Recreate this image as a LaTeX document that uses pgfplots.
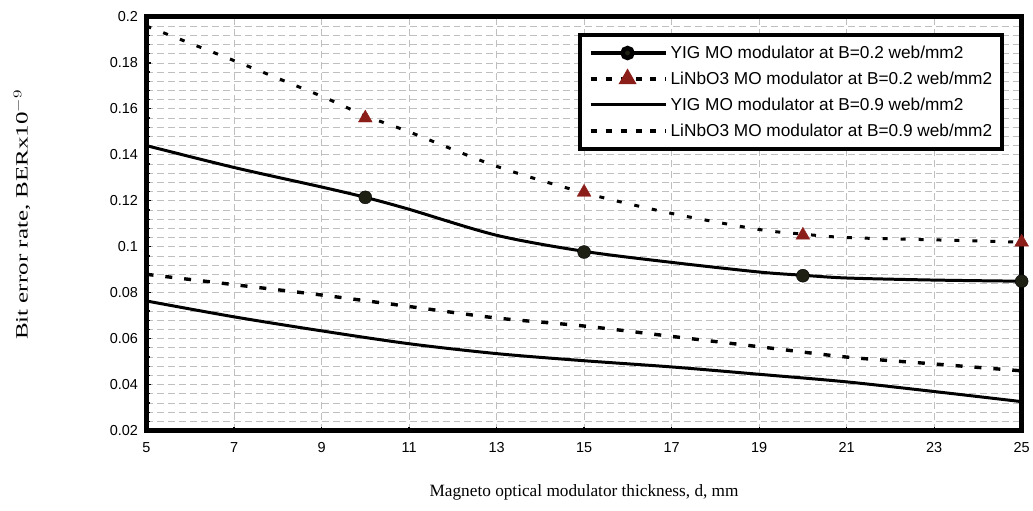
\documentclass[border=0pt]{standalone}
\usepackage{fontspec}
\setmainfont{Liberation Serif}
\newfontfamily\arial{Liberation Sans}
\usepackage{graphicx}
\usepackage{pgfplots}
\pgfplotsset{compat=1.18}
\definecolor{tri}{RGB}{140,30,25}
\definecolor{dot}{RGB}{30,32,20}
\begin{document}
\begin{tikzpicture}
\begin{axis}[
  scale only axis,
  width=878bp, height=415bp,
  xmin=5, xmax=25, ymin=0.02, ymax=0.2,
  xtick={5,7,...,25},
  xticklabels={5,7,9,11,13,15,17,19,21,23,25},
  ytick={0.02,0.04,0.06,0.08,0.1,0.12,0.14,0.16,0.18,0.2},
  yticklabels={0.02,0.04,0.06,0.08,0.1,0.12,0.14,0.16,0.18,0.2},
  minor x tick num=4,
  minor y tick num=4,
  xmajorgrids, ymajorgrids, yminorgrids,
  major grid style={gray!50, line width=0.8bp, dash pattern=on 7bp off 4bp},
  minor grid style={gray!50, line width=0.8bp, dash pattern=on 7bp off 4bp},
  axis line style={line width=5bp, black},
  every tick/.style={black, line width=1.2bp},
  major tick length=4bp, minor tick length=3bp,
  tick align=inside,
  xtick pos=bottom, ytick pos=left,
  ticklabel style={font=\arial\fontsize{14.5bp}{16bp}\selectfont},
  xticklabel style={yshift=-8bp},
  yticklabel style={xshift=-5bp},
  xlabel={Magneto optical modulator thickness, d, mm},
  ylabel={\scalebox{1.45}[1]{Bit error rate, BERx10$^{-9}$}},
  label style={font=\fontsize{17.3bp}{19bp}\selectfont},
  xlabel style={yshift=-25bp},
  ylabel style={yshift=73bp, xshift=9bp},
  legend style={at={(0.98,0.961)}, anchor=north east, draw=black, line width=4bp,
    font=\arial\fontsize{17.3bp}{19bp}\selectfont, row sep=8bp,
    inner xsep=8bp, inner ysep=9bp, cells={anchor=west}},
  legend cell align=left,
  legend image code/.code={\draw[mark repeat=2,mark phase=2,#1] plot coordinates {(0bp,0bp) (37bp,0bp) (76bp,0bp)};},
]
% YIG B=0.2
\addplot[black, line width=3bp, smooth, forget plot] coordinates {
 (5,0.144) (7,0.1345) (9,0.126) (10,0.1215) (11,0.1163) (13,0.1050) (15,0.098)
 (17,0.0932) (19,0.0890) (20,0.0876) (21,0.0864) (23,0.0855) (25,0.085)};
% LiNbO3 B=0.2
\addplot[black, line width=3bp, dash pattern=on 5bp off 13bp, smooth, forget plot] coordinates {
 (5,0.196) (7,0.181) (9,0.1655) (10,0.157) (11,0.150) (13,0.135) (15,0.1235)
 (17,0.1145) (19,0.1075) (20,0.1055) (21,0.104) (23,0.103) (25,0.102)};
% YIG B=0.9
\addplot[black, line width=3bp, smooth, forget plot] coordinates {
 (5,0.0764) (7,0.0695) (9,0.0634) (11,0.0578) (13,0.0535) (15,0.0504)
 (17,0.0477) (19,0.0445) (21,0.0412) (23,0.037) (25,0.0326)};
% LiNbO3 B=0.9
\addplot[black, line width=3.4bp, dash pattern=on 7bp off 12bp, smooth, forget plot] coordinates {
 (5,0.088) (7,0.0835) (9,0.079) (11,0.074) (13,0.069) (15,0.0655)
 (17,0.061) (19,0.0565) (21,0.052) (23,0.049) (25,0.046)};
% markers
\addplot[only marks, mark=*, mark size=6.5bp, mark options={fill=dot, draw=black}, forget plot] coordinates {
 (10,0.1215) (15,0.0977) (20,0.0874) (25,0.085)};
\addplot[only marks, mark=triangle*, mark size=8bp, mark options={fill=tri, draw=tri}, forget plot] coordinates {
 (10,0.156) (15,0.1237) (20,0.105) (25,0.102)};
\addlegendimage{black, line width=4.5bp, mark=*, mark size=5bp, mark options={fill=dot, draw=black, solid}}
\addlegendimage{black, line width=3.5bp, dash pattern=on 6bp off 9bp, mark=triangle*, mark size=7bp, mark options={fill=tri, draw=tri, solid}}
\addlegendimage{black, line width=3bp}
\addlegendimage{black, line width=3.5bp, dash pattern=on 6bp off 9bp}
\legend{YIG MO modulator at B=0.2 web/mm2, LiNbO3 MO modulator at B=0.2 web/mm2, YIG MO modulator at B=0.9 web/mm2, LiNbO3 MO modulator at B=0.9 web/mm2}
\end{axis}
\path[use as bounding box] ([xshift=-147bp,yshift=-80bp]current axis.south west) rectangle ([xshift=8bp,yshift=17bp]current axis.north east);
\end{tikzpicture}
\end{document}
